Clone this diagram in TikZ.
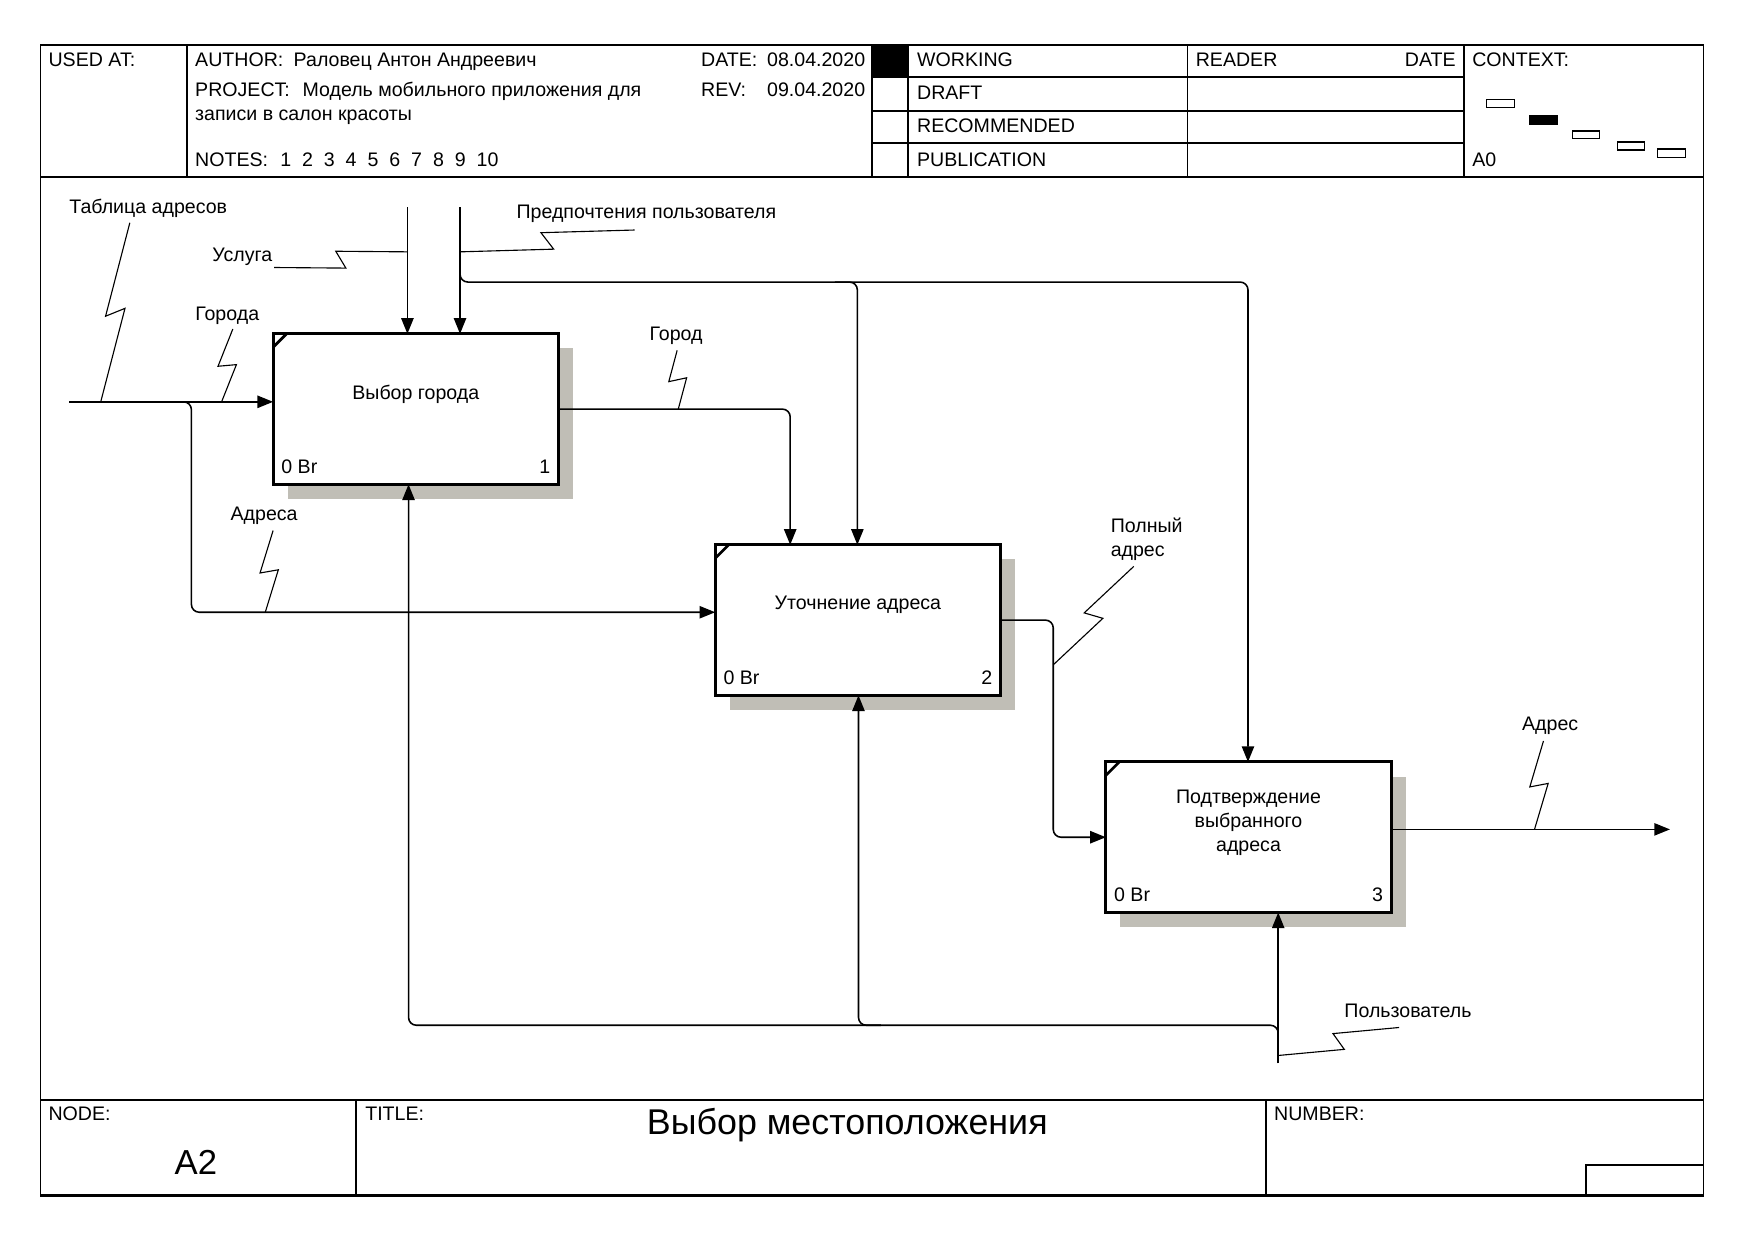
\documentclass[tikz,border=0pt]{standalone}
\usepackage{fontspec}
\setmainfont{Liberation Sans}
\usetikzlibrary{positioning}
\usetikzlibrary{calc}
\usetikzlibrary{arrows.meta}
\usetikzlibrary{shadows}
\definecolor{shadowgray}{RGB}{192,190,182}

% leader line with a zigzag, from a label to its arrow
\newcommand{\zigzag}[3]{%
  \coordinate (#1-a) at (#2);
  \coordinate (#1-b) at (#3);
  \draw[leader] (#1-a) -- ($(#1-a)!0.53!(#1-b)!4pt!-90:(#1-b)$) -- ($(#1-a)!0.47!(#1-b)!4pt!90:(#1-b)$) -- (#1-b);}

\begin{document}
\begin{tikzpicture}[x=0.5pt,y=-0.5pt,font=\fontsize{8.75}{10.75}\selectfont,
		frame/.style={line width=0.7pt},
		hdr/.style={anchor=base west,inner sep=0},
		lbl/.style={anchor=base,inner sep=0},
		fbox/.style={draw,line width=1.35pt,fill=white,minimum width=127.5pt,minimum height=67.25pt,inner sep=0,outer sep=0,
			drop shadow={shadow xshift=6.5pt,shadow yshift=-6.5pt,fill=shadowgray,opacity=1}},
		flow/.style={line width=0.7pt,-{Triangle[length=7pt,width=5.5pt]},rounded corners=3.5pt},
		leader/.style={line width=0.5pt},
		ctx/.style={line width=0.6pt}]
		\useasboundingbox (0,0) rectangle (1568,1109);
		% frame
		\draw[frame] (36,40) rectangle (1522,1068);
		\draw[frame] (36,158) -- (1522,158);
		\draw[frame] (36,983) -- (1522,983);
		\draw[line width=1.4pt] (36,1068) -- (1522,1068);
		\foreach \x in {167,779,811,1061,1308} \draw[frame] (\x,40) -- (\x,158);
		\foreach \y in {69,99,128} \draw[frame] (779,\y) -- (1308,\y);
		\fill (779,40) rectangle (811,69);
		\foreach \x in {318,1131} \draw[frame] (\x,983) -- (\x,1068);
		\draw[frame] (1417,1068) |- (1522,1041);
		% header
		\node[hdr] (used) at (43,59.5) {USED AT:};
		\node[hdr] (author) at (174,59.5) {AUTHOR:};
		\node[hdr] (authorname) at (262,59.5) {Раловец Антон Андреевич};
		\node[hdr] (project) at (174,86.5) {PROJECT:};
		\node[hdr] (projectname) at (270,86.5) {Модель мобильного приложения для};
		\node[hdr] (projectname2) at (174,108) {записи в салон красоты};
		\node[hdr] (date) at (626,59.5) {DATE:};
		\node[hdr] (dateval) at (685,59.5) {08.04.2020};
		\node[hdr] (rev) at (626,86.5) {REV:};
		\node[hdr] (revval) at (685,86.5) {09.04.2020};
		\node[hdr] (notes) at (174,148.5) {NOTES:};
		\foreach \n in {1,...,10} \node[hdr] (note\n) at (250+19.5*\n-19.5,148.5) {\n};
		\node[hdr] (working) at (819,59.5) {WORKING};
		\node[hdr] (draft) at (819,89) {DRAFT};
		\node[hdr] (recommended) at (819,118.5) {RECOMMENDED};
		\node[hdr] (publication) at (819,148.5) {PUBLICATION};
		\node[hdr] (reader) at (1068,59.5) {READER};
		\node[anchor=base east,inner sep=0] (readerdate) at (1301,59.5) {DATE};
		\node[hdr] (context) at (1315,59.5) {CONTEXT:};
		\node[hdr] (a0) at (1315,148.5) {A0};
		\draw[ctx] (1328,89) rectangle (1353,96);
		\filldraw[ctx] (1367,103) rectangle (1391,111);
		\draw[ctx] (1405,117) rectangle (1429,124);
		\draw[ctx] (1445,127) rectangle (1469,134);
		\draw[ctx] (1481,133) rectangle (1506,141);
		% footer
		\node[hdr] (node) at (43,1001.5) {NODE:};
		\node[lbl,font=\fontsize{15.5}{18}\selectfont] (nodeval) at (175,1049) {A2};
		\node[hdr] (title) at (326,1001.5) {TITLE:};
		\node[lbl,font=\fontsize{16}{19}\selectfont] (titleval) at (757,1014) {Выбор местоположения};
		\node[hdr] (number) at (1138,1001.5) {NUMBER:};
		% activity boxes
		\node[fbox] (b1) at (371.5,365.5) {};
		\node[fbox] (b2) at (766.5,554) {};
		\node[fbox] (b3) at (1115.5,748) {};
		\foreach \b/\n in {b1/1,b2/2,b3/3} {
			\draw[line width=1.2pt] ($(\b.north west)+(0,12)$) -- ($(\b.north west)+(12,0)$);
			\node[hdr] (\b-br) at ($(\b.south west)+(7,-10)$) {0 Br};
			\node[anchor=base east,inner sep=0] (\b-no) at ($(\b.south east)+(-7,-10)$) {\n};
		}
		\node (t1) at ($(b1.north)+(0,54)$) {Выбор города};
		\node (t2) at ($(b2.north)+(0,54)$) {Уточнение адреса};
		\node[align=center] (t3) at ($(b3.north)+(0,54)$) {Подтверждение\\выбранного\\адреса};
		% arrows
		\coordinate (tab) at (62,359);
		\coordinate (usl) at (364,185);
		\coordinate (pref) at (411,185);
		\coordinate (usr) at (1142,950);
		\coordinate (adrout) at (1492,741);
		\coordinate (jadr) at (171,547);
		\coordinate (jpref) at (1115,252);
		\coordinate (jpref2) at (766,252);
		\coordinate (jgor) at (706,366);
		\coordinate (jfull) at (941,650);
		\coordinate (jusr) at (365,916);
		\coordinate (jusr2) at (767,916);
		\draw[flow] (tab) -- (tab -| b1.west);
		\draw[flow] ($(tab)+(98,0)$) -| (jadr) -- (jadr -| b2.west);
		\draw[flow] (usl) -- (usl |- b1.north);
		\draw[flow] (pref) -- (pref |- b1.north);
		\draw[flow] ($(pref)+(0,45)$) |- (jpref) -- (jpref |- b3.north);
		\draw[flow] ($(jpref2)+(-20,0)$) -| (jpref2 |- b2.north);
		\draw[flow] (b1.east) -| (jgor |- b2.north);
		\draw[flow] (b2.east) -| (jfull) |- (b3.west);
		\draw[flow] ($(b3.east)+(0,-7)$) -- (adrout);
		\draw[flow] (usr) -- (usr |- b3.south);
		\draw[flow] ($(usr)+(0,-22)$) |- (jusr) -- (jusr |- b1.south);
		\draw[flow] ($(jusr2)+(20,0)$) -| (jusr2 |- b2.south);
		% arrow labels
		\node[lbl] (ltab) at (132.5,191) {Таблица адресов};
		\node[lbl] (lgor) at (203,286) {Города};
		\node[lbl] (ladr) at (236,465) {Адреса};
		\node[lbl] (lusl) at (216.5,234) {Услуга};
		\node[lbl] (lpref) at (577.5,195) {Предпочтения пользователя};
		\node[lbl] (lcity) at (604,304) {Город};
		\node[anchor=north west,inner sep=0,align=left] (lfull) at (992,462) {Полный\\адрес};
		\node[lbl] (lout) at (1385,653) {Адрес};
		\node[lbl] (lusr) at (1258,909) {Пользователь};
		\zigzag{ztab}{116,199}{$(tab)+(28,0)$}
		\zigzag{zgor}{208,294}{$(tab)+(136,0)$}
		\zigzag{zadr}{244,474}{$(jadr)+(66,0)$}
		\zigzag{zusl}{245,239}{$(usl)+(0,40)$}
		\zigzag{zpref}{567,205.5}{$(pref)+(0,40)$}
		\zigzag{zcity}{605,313}{$(b1.east)+(107,0)$}
		\zigzag{zfull}{1013,506}{$(jfull)+(0,-56)$}
		\zigzag{zout}{1379,662}{$(adrout)+(-121,0)$}
		\zigzag{zusr}{1250,918}{$(usr)+(0,-7)$}
	\end{tikzpicture}
\end{document}
